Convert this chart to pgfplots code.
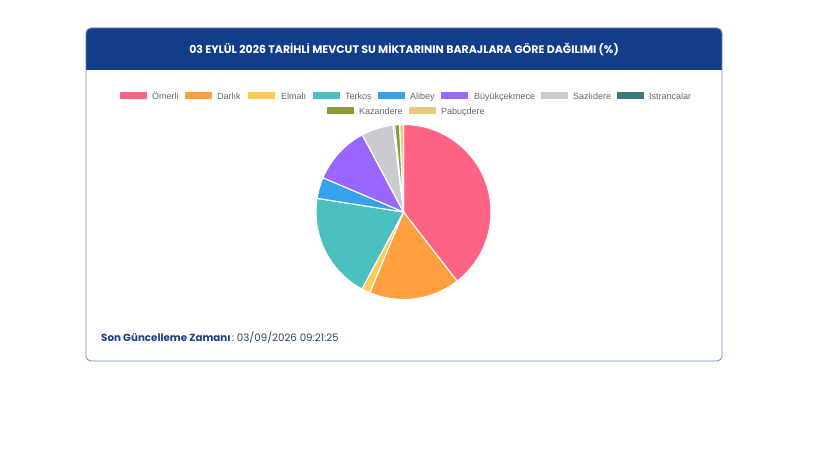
\documentclass[border=0pt]{standalone}
\usepackage{pgfplots}
\usepackage{pgfplotstable}
\pgfplotsset{compat=1.18}
\usepackage{fontspec}
\setmainfont{Liberation Sans}
\newfontfamily\pop{Poppins}
\newfontfamily\lib{Liberation Sans}
\definecolor{hdr}{HTML}{123D8A}
\definecolor{brd}{HTML}{7089AE}
\definecolor{legtxt}{HTML}{666666}
\definecolor{foot}{HTML}{1B3F86}
\definecolor{foot2}{HTML}{2E4470}
\definecolor{c0}{HTML}{FF6384}
\definecolor{c1}{HTML}{FF9F40}
\definecolor{c2}{HTML}{FFCD56}
\definecolor{c3}{HTML}{4BC0C0}
\definecolor{c4}{HTML}{36A2EB}
\definecolor{c5}{HTML}{9966FF}
\definecolor{c6}{HTML}{C9CBCF}
\definecolor{c7}{HTML}{3C7A80}
\definecolor{c8}{HTML}{8C9A3A}
\definecolor{c9}{HTML}{E8C97D}
% share (%) of each dam, clockwise from 12 o'clock
\pgfplotstableread{
idx val
0 39.5
1 16.8
2 1.6
3 19.6
4 3.9
5 10.8
6 5.9
7 0.3
8 0.9
9 0.7
}\piedata
\begin{document}
\begin{tikzpicture}[x=1pt,y=1pt]
\useasboundingbox (0,0) rectangle (820,461);
\fill[white] (0,0) rectangle (820,461);
% card
\fill[hdr] (86,391) [rounded corners=5pt] -- (86,433) -- (722,433) [sharp corners] -- (722,391) -- cycle;
\draw[brd, line width=0.8pt, rounded corners=5pt] (86,100) rectangle (722,433);
\node[text=white, inner sep=0] at (404,412) {\pop\bfseries\fontsize{11}{13}\selectfont 03 EYLÜL 2026 TARİHLİ MEVCUT SU MİKTARININ BARAJLARA GÖRE DAĞILIMI (\%)};
% legend
\newcommand{\legitem}[5]{%
  \fill[#1] (#2,#4-3.5) rectangle ++(27,7);
  \node[anchor=base west, inner sep=0, text=legtxt] at (#3,#4-3.3) {\lib\fontsize{9}{10}\selectfont #5};}
\legitem{c0}{119.5}{152}{365}{Ömerli}
\legitem{c1}{185}{217}{365}{Darlık}
\legitem{c2}{248}{281}{365}{Elmalı}
\legitem{c3}{313}{345}{365}{Terkos}
\legitem{c4}{378}{410}{365}{Alibey}
\legitem{c5}{441}{474}{365}{Büyükçekmece}
\legitem{c6}{541}{573}{365}{Sazlıdere}
\legitem{c7}{617}{649}{365}{Istrancalar}
\legitem{c8}{327}{359}{350}{Kazandere}
\legitem{c9}{409}{441}{350}{Pabuçdere}
% pie
\begin{axis}[hide axis, x=1pt, y=1pt, xmin=-88, xmax=88, ymin=-88, ymax=88,
  clip=false, at={(403.5pt,249pt)}, anchor=center]
\def\cum{0}
\pgfplotsforeachungrouped \i in {0,...,9}{%
  \pgfplotstablegetelem{\i}{val}\of\piedata
  \let\v\pgfplotsretval
  \pgfmathsetmacro{\s}{90-3.6*\cum}%
  \pgfmathsetmacro{\e}{90-3.6*(\cum+\v)}%
  \pgfmathsetmacro{\cum}{\cum+\v}%
  \edef\tmp{\noexpand\filldraw[fill=c\i, draw=white, line width=1.1pt, line join=round]
    (axis cs:0,0) -- (axis cs:{87.5*cos(\s)},{87.5*sin(\s)})
    arc[start angle=\s, end angle=\e, radius=87.5pt] -- cycle;}%
  \tmp
}
\end{axis}
% footer
\node[anchor=base west, inner sep=0] at (101,119.3) {\pop\fontsize{10.3}{12}\selectfont{\color{foot}\bfseries Son Güncelleme Zamanı}{\color{foot2}\hspace{1.5pt}:\hspace{2.5pt}03/09/2026 09:21:25}};
\end{tikzpicture}
\end{document}
